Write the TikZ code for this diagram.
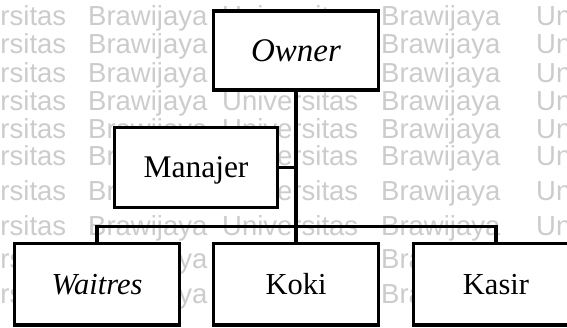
\documentclass[tikz,border=0pt]{standalone}
\usepackage{fontspec}
\setmainfont{Liberation Serif}
\newfontfamily\wmfont{Liberation Sans}
\begin{document}
\begin{tikzpicture}[x=1pt,y=-1pt,
  orgbox/.style={draw, line width=3.2pt, fill=white, inner sep=0pt,
    minimum width=165pt, minimum height=80pt,
    text height=20.5pt, text depth=0pt,
    font=\fontsize{30.5}{36}\selectfont},
  link/.style={line width=3.2pt},
  wmark/.style={anchor=base west, inner sep=0pt, text=black!20,
    font=\wmfont\fontsize{27.5}{33}\selectfont}]
\useasboundingbox (0,0) rectangle (567,327);
\clip (0,0) rectangle (567,327);
\fill[white] (0,0) rectangle (567,327);

% background watermark rows
\foreach \b [count=\i] in {25,53,82,110,138,165,200,235,268,303} {
  \node[wmark] (wa\i) at (-70,\b) {Universitas};
  \node[wmark] (wb\i) at (88,\b)  {Brawijaya};
  \node[wmark] (wc\i) at (222,\b) {Universitas};
  \node[wmark] (wd\i) at (381,\b) {Brawijaya};
  \node[wmark] (we\i) at (536,\b) {Universitas};
}

% organisation boxes
\node[orgbox, minimum height=79pt, text height=22pt,
      font=\fontsize{33}{38}\selectfont] (owner) at (296,50.5) {\itshape Owner};
\node[orgbox, minimum width=163.5pt,
      font=\fontsize{31.5}{37}\selectfont] (manajer) at (196,167.5) {Manajer};
\node[orgbox, minimum height=81.5pt] (waitres) at (97,284.3) {\itshape Waitres};
\node[orgbox, minimum height=81.5pt] (koki) at (296,284.3) {Koki};
\node[orgbox, minimum height=81.5pt] (kasir) at (496,284.3) {Kasir};

% connectors
\coordinate (bar) at (296,226.5);
\draw[link] (owner.south) -- (koki.north);
\draw[link] (manajer.east) -- (manajer.east -| owner.south);
\draw[link] (waitres.north) |- (bar) -| (kasir.north);
\end{tikzpicture}
\end{document}
